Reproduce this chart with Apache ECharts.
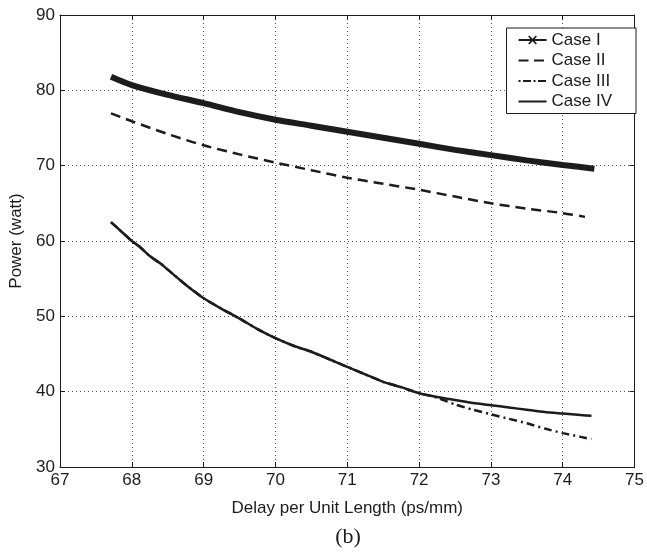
<!DOCTYPE html>
<html><head><meta charset="utf-8">
<script src="https://cdn.jsdelivr.net/npm/echarts@6/dist/echarts.min.js"></script>
<style>html,body{margin:0;padding:0;background:#fff}#c{width:647px;height:552px}</style>
</head><body><div id="c"></div>
<script>
// ---- data ----
const xMin = 67, xMax = 75, yMin = 30, yMax = 90;
const seriesNames = ['Case I', 'Case II', 'Case III', 'Case IV'];
const xLabel = 'Delay per Unit Length (ps/mm)';
const yLabel = 'Power (watt)';
const panelLabel = '(b)';

const caseI_x = [67.71, 68.0, 68.5, 69.0, 69.5, 70.0, 70.5, 71.0, 71.5, 72.0, 72.5, 73.0, 73.5, 74.0, 74.44];
const caseI_y = [81.8, 80.7, 79.4, 78.3, 77.1, 76.1, 75.3, 74.5, 73.7, 72.9, 72.1, 71.4, 70.7, 70.1, 69.6];

const caseII_x = [67.71, 68.0, 68.5, 69.0, 69.5, 70.0, 70.5, 71.0, 71.5, 72.0, 72.5, 73.0, 73.5, 74.0, 74.31];
const caseII_y = [76.95, 75.9, 74.2, 72.7, 71.5, 70.4, 69.4, 68.4, 67.6, 66.8, 65.9, 65.0, 64.3, 63.7, 63.2];

const caseIV_x = [67.71, 67.85, 68.0, 68.1, 68.25, 68.4, 68.5, 68.75, 69.0, 69.25, 69.5, 69.75, 70.0, 70.25, 70.5, 70.75, 71.0, 71.25, 71.5, 71.75, 72.0, 72.25, 72.5, 72.75, 73.0, 73.25, 73.5, 73.75, 74.0, 74.25, 74.4];
const caseIV_y = [62.5, 61.3, 60.0, 59.3, 58.0, 57.0, 56.2, 54.2, 52.4, 51.0, 49.7, 48.3, 47.1, 46.1, 45.3, 44.3, 43.3, 42.3, 41.3, 40.6, 39.8, 39.3, 38.9, 38.5, 38.2, 37.9, 37.6, 37.3, 37.1, 36.9, 36.8];

const caseIII_x = [67.71, 67.85, 68.0, 68.1, 68.25, 68.4, 68.5, 68.75, 69.0, 69.25, 69.5, 69.75, 70.0, 70.25, 70.5, 70.75, 71.0, 71.25, 71.5, 71.75, 72.0, 72.25, 72.5, 72.75, 73.0, 73.25, 73.5, 73.75, 74.0, 74.25, 74.4];
const caseIII_y = [62.5, 61.3, 60.0, 59.3, 58.0, 57.0, 56.2, 54.2, 52.4, 51.0, 49.7, 48.3, 47.1, 46.1, 45.3, 44.3, 43.3, 42.3, 41.3, 40.6, 39.8, 39.2, 38.3, 37.6, 37.0, 36.4, 35.8, 35.1, 34.5, 34.0, 33.7];

// ---- build ----
const pairs = (xs, ys) => xs.map((x, i) => [x, ys[i]]);
const FONT = '"Liberation Sans", Arial, Helvetica, sans-serif';
const INK = '#1c1c1c';

// legend icons (28 x 10 box; tiny corner anchors fix the bounding box)
const anchors = ' M0,0 L0.01,0 L0.01,0.01 Z M28,10 L27.99,10 L27.99,9.99 Z';
const iconI = 'path://M0,4.1 L28,4.1 L28,5.9 L0,5.9 Z M9.6,1.6 L10.8,0.6 L14,3.8 L17.2,0.6 L18.4,1.6 L15.3,5 L18.4,8.4 L17.2,9.4 L14,6.2 L10.8,9.4 L9.6,8.4 L12.7,5 Z' + anchors;
const iconII = 'path://M0,4 L10,4 L10,6 L0,6 Z M15.5,4 L25.5,4 L25.5,6 L15.5,6 Z' + anchors;
const iconIII = 'path://M0,4 L2,4 L2,6 L0,6 Z M4.5,4 L12.5,4 L12.5,6 L4.5,6 Z M15,4 L17,4 L17,6 L15,6 Z M19.5,4 L27.5,4 L27.5,6 L19.5,6 Z' + anchors;
const iconIV = 'path://M0,4 L28,4 L28,6 L0,6 Z' + anchors;

const gridLine = { show: true, lineStyle: { color: '#555', width: 1, type: [1, 3] } };
const axisLine = { show: true, onZero: false, lineStyle: { color: INK, width: 1 } };
const tick = { show: true, inside: true, length: 5, lineStyle: { color: INK } };

const chart = echarts.init(document.getElementById('c'), null, { renderer: 'canvas' });
chart.setOption({
  backgroundColor: '#fff',
  animation: false,
  grid: { left: 60, right: 11, top: 15, bottom: 85, containLabel: false },
  xAxis: [{
    type: 'value', min: xMin, max: xMax, interval: 1, position: 'bottom',
    name: xLabel, nameLocation: 'middle', nameGap: 33,
    nameTextStyle: { fontFamily: FONT, fontSize: 17, color: INK },
    axisLine: axisLine, axisTick: tick, splitLine: gridLine,
    axisLabel: { fontFamily: FONT, fontSize: 17, color: INK, margin: 5 }
  }, {
    type: 'value', min: xMin, max: xMax, interval: 1, position: 'top',
    axisLine: axisLine, axisTick: tick, splitLine: { show: false }, axisLabel: { show: false }
  }],
  yAxis: [{
    type: 'value', min: yMin, max: yMax, interval: 10, position: 'left',
    name: yLabel, nameLocation: 'middle', nameGap: 30, nameRotate: 90,
    nameTextStyle: { fontFamily: FONT, fontSize: 17, color: INK },
    axisLine: axisLine, axisTick: tick, splitLine: gridLine,
    axisLabel: { fontFamily: FONT, fontSize: 17, color: INK, margin: 5 }
  }, {
    type: 'value', min: yMin, max: yMax, interval: 10, position: 'right',
    axisLine: axisLine, axisTick: tick, splitLine: { show: false }, axisLabel: { show: false }
  }],
  legend: {
    orient: 'vertical', right: 11, top: 28,
    backgroundColor: '#fff', borderColor: INK, borderWidth: 1,
    padding: [2, 24, 2, 12], itemGap: 0.5, itemWidth: 28, itemHeight: 10, itemTextGap: 11,
    textStyle: { fontFamily: FONT, fontSize: 17, color: INK, lineHeight: 20 },
    data: [
      { name: seriesNames[0], icon: iconI },
      { name: seriesNames[1], icon: iconII },
      { name: seriesNames[2], icon: iconIII },
      { name: seriesNames[3], icon: iconIV }
    ]
  },
  graphic: [{
    type: 'text', x: 348, y: 537,
    style: { text: panelLabel, align: 'center', verticalAlign: 'middle',
      font: '22px "Liberation Serif", "Times New Roman", serif', fill: INK }
  }],
  series: [{
    name: seriesNames[0], type: 'line', data: pairs(caseI_x, caseI_y),
    symbol: 'none', smooth: 0.3, color: INK,
    lineStyle: { color: INK, width: 6 }
  }, {
    name: seriesNames[1], type: 'line', data: pairs(caseII_x, caseII_y),
    symbol: 'none', smooth: 0.3, color: INK,
    lineStyle: { color: INK, width: 2.5, type: [10, 6] }
  }, {
    name: seriesNames[2], type: 'line', data: pairs(caseIII_x, caseIII_y),
    symbol: 'none', smooth: 0.2, color: INK, z: 2,
    lineStyle: { color: INK, width: 2.5, type: [8, 4, 2, 4] }
  }, {
    name: seriesNames[3], type: 'line', data: pairs(caseIV_x, caseIV_y),
    symbol: 'none', smooth: 0.2, color: INK, z: 3,
    lineStyle: { color: INK, width: 2.5 }
  }]
});
</script>
</body></html>
